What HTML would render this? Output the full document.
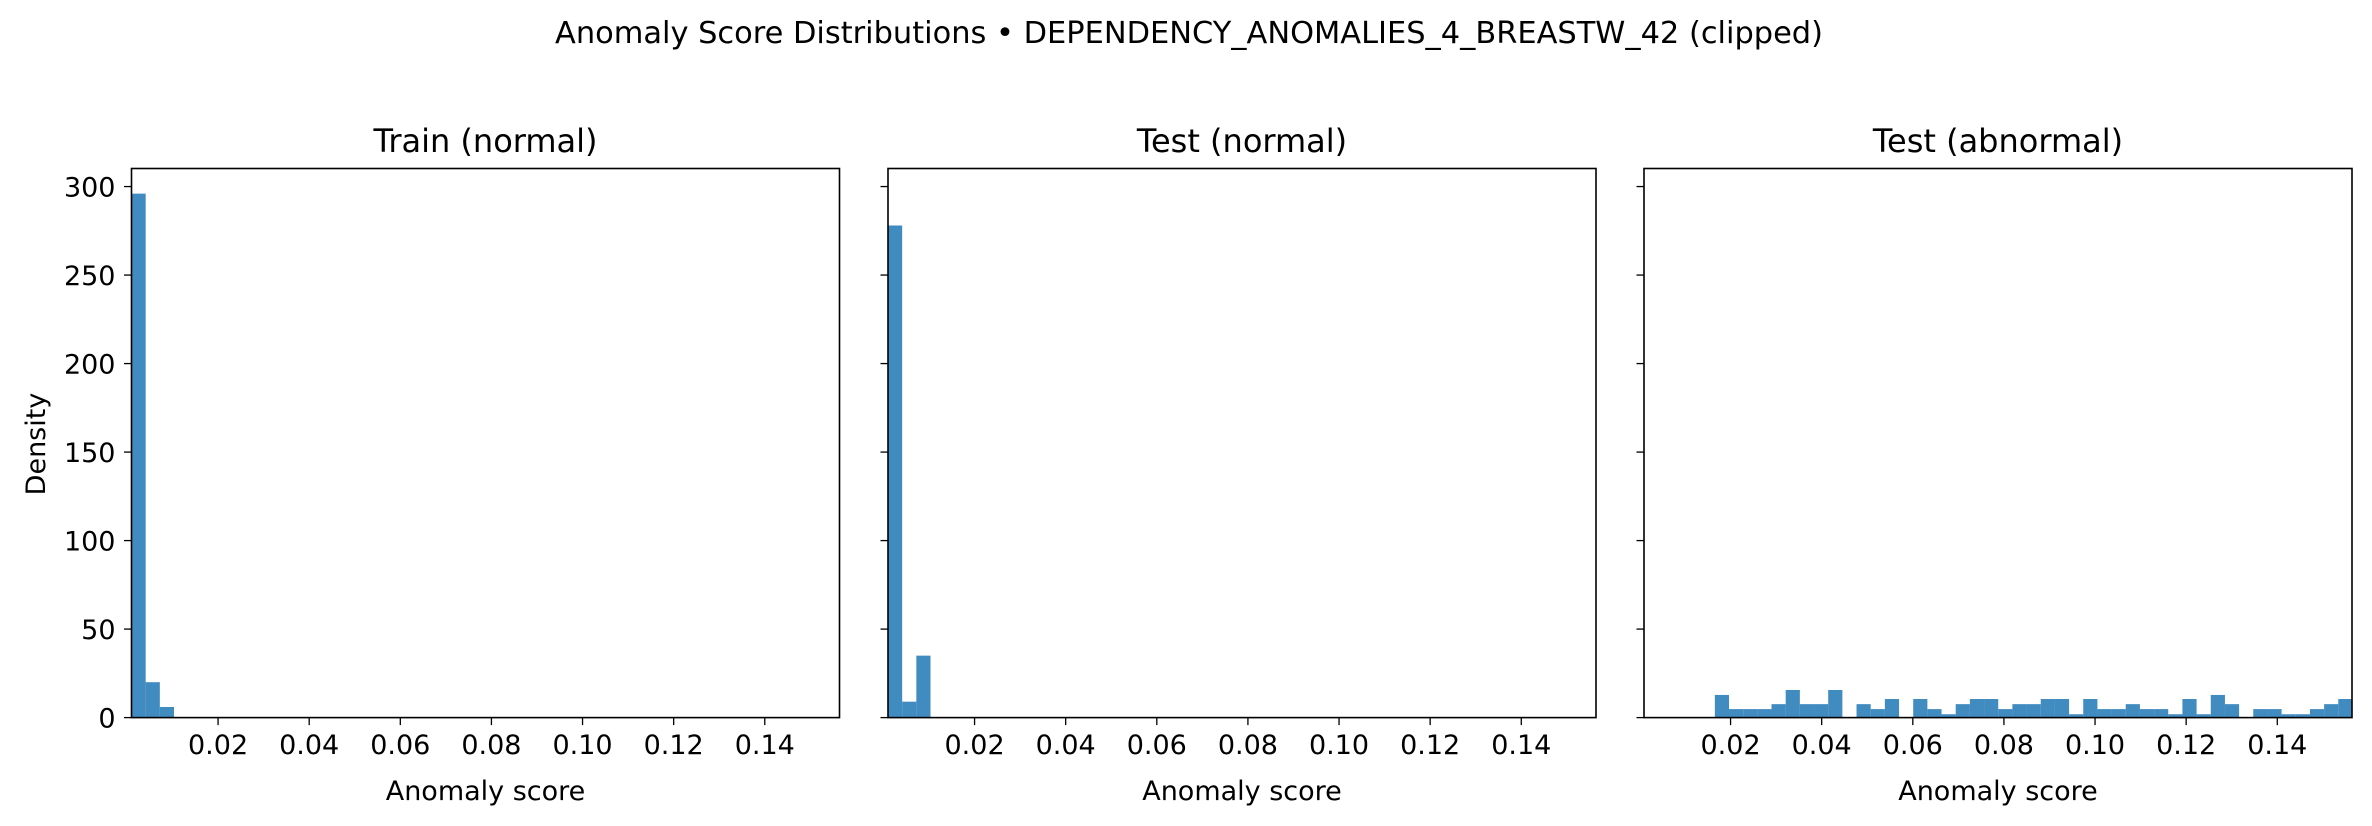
<!DOCTYPE html>
<html><head><meta charset="utf-8">
<style>
html,body{margin:0;padding:0;background:#fff;}
svg{display:block;font-family:"DejaVu Sans","Liberation Sans",sans-serif;}
</style></head>
<body>
<svg id="chart" width="2372" height="826" viewBox="0 0 2372 826" xmlns="http://www.w3.org/2000/svg">
<text x="1189" y="43" font-size="30" text-anchor="middle" fill="#000" textLength="1268" lengthAdjust="spacingAndGlyphs">Anomaly Score Distributions • DEPENDENCY_ANOMALIES_4_BREASTW_42 (clipped)</text>
<text transform="translate(45,444) rotate(-90)" font-size="27" text-anchor="middle" fill="#000">Density</text>
<g id="panels"></g>
</svg>
<script>
const panelTitles = ["Train (normal)", "Test (normal)", "Test (abnormal)"];
const binStart = 0.001;
const binWidth = 0.00311;
const trainValues = [296, 20, 6];
const testNormalValues = [278, 9, 35];
const testAbnormalValues = [0,0,0,0,0,12.8,4.8,4.8,4.8,7.6,15.6,7.6,7.6,15.6,0,7.6,4.8,10.5,0,10.5,4.8,1.9,7.6,10.5,10.5,4.8,7.6,7.6,10.5,10.5,1.9,10.5,4.8,4.8,7.6,4.8,4.8,1.9,10.5,1.9,12.8,7.6,0,4.8,4.8,1.9,1.9,4.8,7.6,10.5];
const xTicks = [0.02,0.04,0.06,0.08,0.10,0.12,0.14];
const xTickLabels = ["0.02","0.04","0.06","0.08","0.10","0.12","0.14"];
const yTicks = [0,50,100,150,200,250,300];
const yTickLabels = ["0","50","100","150","200","250","300"];
const xDomain = [0.001, 0.1564];
const yDomain = [0, 310.2];

const NS = "http://www.w3.org/2000/svg";
const series = [trainValues, testNormalValues, testAbnormalValues];
const lefts = [131.5, 888, 1644];
const W = 708, TOP = 168.5, BOT = 717.6;
const g = document.getElementById('panels');
function mk(tag, attrs, parent){const e=document.createElementNS(NS,tag);for(const k in attrs)e.setAttribute(k,attrs[k]);parent.appendChild(e);return e;}
series.forEach((vals, p) => {
  const L = lefts[p];
  const xs = v => L + (v - xDomain[0]) / (xDomain[1] - xDomain[0]) * W;
  const ys = v => BOT - (v - yDomain[0]) / (yDomain[1] - yDomain[0]) * (BOT - TOP);
  const pg = mk('g', {}, g);
  
  
  vals.forEach((v, i) => {
    if (v <= 0) return;
    const x0 = xs(binStart + i*binWidth), x1 = Math.min(xs(binStart + (i+1)*binWidth), L+W);
    const r = mk('rect', {x:x0, y:ys(v), width:x1-x0, height:BOT-ys(v), fill:'#1f77b4', 'fill-opacity':0.85}, pg);
    
    
  });
  const frame = mk('rect', {x:L, y:TOP, width:W, height:BOT-TOP, fill:'none', stroke:'#000', 'stroke-width':1.6}, pg);
  
  
  const t = mk('text', {x:L+W/2, y:152, 'font-size':32, 'text-anchor':'middle'}, pg);
  t.textContent = panelTitles[p];
  
  
  xTicks.forEach((v, i) => {
    const x = xs(v);
    mk('line', {x1:x, x2:x, y1:BOT, y2:BOT+7.5, stroke:'#000', 'stroke-width':1.3}, pg);
    const tl = mk('text', {x:x, y:754, 'font-size':27, 'text-anchor':'middle'}, pg);
    tl.textContent = xTickLabels[i];
    
    
  });
  yTicks.forEach((v, i) => {
    const y = ys(v);
    mk('line', {x1:L, x2:L-7.5, y1:y, y2:y, stroke:'#000', 'stroke-width':1.3}, pg);
    if (p === 0) {
      const tl = mk('text', {x:L-16, y:y+10, 'font-size':27, 'text-anchor':'end'}, pg);
      tl.textContent = yTickLabels[i];
      
      
    }
  });
  const xl = mk('text', {x:L+W/2, y:800, 'font-size':27, 'text-anchor':'middle'}, pg);
  xl.textContent = 'Anomaly score';
  
  
});
</script>
</body></html>
